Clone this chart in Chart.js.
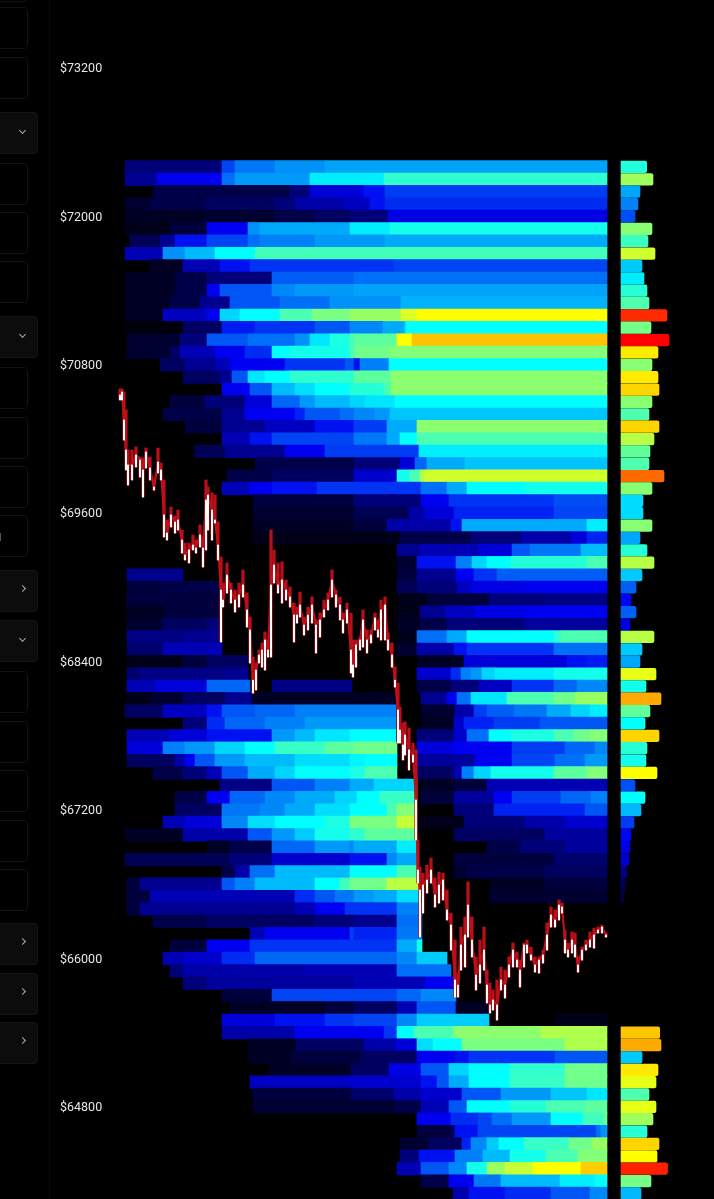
<!DOCTYPE html>
<html>
<head>
<meta charset="utf-8">
<title>Liquidation heatmap</title>
<script src="https://cdn.jsdelivr.net/npm/chart.js@4"></script>
<style>
html,body{margin:0;padding:0;background:#000;width:714px;height:1199px;overflow:hidden}
#side{position:absolute;left:0;top:0;width:50px;height:1199px;border-right:1px solid #090909;box-sizing:border-box}
.box{position:absolute;left:-10px;width:38px;height:42px;box-sizing:border-box;border:1px solid #121212;border-radius:4px}
.box.wide{width:48px;background:#0c0c0c;border-color:#141414}
.box.wide::after{content:"";position:absolute;left:29px;top:15px;width:4px;height:4px;border-right:1px solid #aaa;border-bottom:1px solid #aaa}
.box.down::after{transform:rotate(45deg)}
.box.right::after{transform:rotate(-45deg)}
#mark{position:absolute;left:0;top:533px;width:1px;height:8px;background:#555}
canvas{position:absolute;left:0;top:0;filter:blur(0.6px)}
</style>
</head>
<body>
<div id="side"><div id="mark"></div></div>
<canvas id="myChart" width="714" height="1199" style="width:714px;height:1199px"></canvas>
<script>
// price axis
const priceTicks = [73200, 72000, 70800, 69600, 68400, 67200, 66000, 64800];
// one row per $100 level, top one is 72400
const topLevel = 72400;
// each row: start time, level, start time, level ... (level runs until next start)
const heatRows = [
[0,10,97,28,110,34,150,37,200,39],
[0,12,30,15,33,20,97,33,110,38,185,48,259,55],
[28,6,165,10,185,18,239,22,260,27],
[0,4,25,6,80,8,150,10,170,14,220,16,245,22,260,25],
[0,3,80,4,150,6,190,8,225,10,263,19],
[0,2,45,5,82,20,123,37,135,40,225,48,265,52],
[5,7,35,12,50,22,82,28,123,33,135,35,190,38,260,40],
[0,15,38,37,60,42,90,50,130,57],
[25,3,58,15,95,22,125,26,269,28],
[0,3,50,6,82,10,147,31,229,33],
[0,3,50,6,82,20,95,30,147,36,170,38,229,39],
[0,3,45,6,75,12,105,30,155,33,205,37,276,41],
[0,3,38,16,82,20,95,45,115,50,155,58,187,63,225,66,276,72,292,75],
[0,1,58,8,97,23,130,26,190,30,225,36,258,40,280,48,282,50],
[2,4,55,10,82,30,123,33,170,37,185,47,205,53,225,58,230,60,272,75,287,81],
[2,4,45,8,55,15,90,20,120,25,147,50,165,52,225,58,230,62,265,64],
[35,8,60,12,90,15,105,20,160,26,220,30,229,22,235,35,264,50],
[58,8,95,12,107,30,123,47,140,50,165,55,229,60,266,65],
[97,20,125,30,147,42,170,46,190,50,225,54,259,58,266,65],
[45,5,80,10,120,18,147,32,175,38,190,42,225,45,240,47,270,50],
[38,6,97,12,120,20,170,24,180,30,215,33,229,36,250,38,265,43],
[60,5,97,12,140,16,190,22,229,27,262,40,292,65],
[97,15,125,22,147,28,229,34,262,40,275,50,292,58],
[70,7,100,12,160,20,200,27,294,48],
[130,6,229,10,275,18,290,32,302,40,340,43],
[102,6,148,8,229,17,272,52,285,58,295,68,300,71],
[97,15,125,20,147,22,192,26,296,33,322,40,342,50,400,52],
[128,5,229,10,296,20,324,26,429,29],
[128,4,229,7,284,14,300,18,329,24,429,28],
[128,3,229,5,262,14,326,22,337,40,462,48],
[128,2,275,6,346,10,396,14,446,18,462,24],
[272,12,295,15,354,18,387,30,405,34,456,42],
[272,4,292,22,331,35,347,45,362,50,386,54,462,58],
[2,12,58,0,272,5,292,12,331,20,349,26,372,31],
[2,5,35,6,95,0,272,7,292,10,332,16,346,19,400,20],
[2,5,100,0,272,2,302,5,364,10,420,11],
[2,3,40,5,95,0,272,2,295,12,320,16,350,19,400,20],
[2,4,38,8,82,10,97,0,272,3,295,6,322,10,400,13],
[2,11,60,12,97,0,272,2,292,33,322,40,342,50,429,55,436,58],
[2,9,38,15,97,0,272,4,292,14,329,22,342,26,429,33],
[2,2,58,5,82,8,123,0,292,3,339,18,442,22,462,23],
[2,9,15,11,100,12,123,0,292,17,326,25,336,35,346,38,357,45,370,48,429,52],
[2,15,30,18,82,32,125,0,147,11,227,0,292,6,326,10,354,16,387,26,429,32,452,36],
[2,2,25,4,58,8,100,12,127,3,271,0,296,12,322,20,332,33,346,47,382,58,429,62,450,66],
[0,8,38,16,82,22,97,30,130,32,170,35,271,0,296,4,330,14,349,27,362,31,389,34,422,40,446,45,465,48],
[58,10,82,25,100,32,140,35,180,38,271,0,296,3,329,17,339,24,369,27,415,30],
[2,15,45,18,82,22,147,38,170,42,190,47,225,50,271,0,292,10,329,17,342,33,364,50,386,53,429,58,449,62,465,64],
[2,18,38,35,60,38,90,45,120,50,150,56,200,60,229,62,272,0,292,18,329,20,387,27,440,32,470,36],
[2,8,50,14,60,20,70,30,90,38,120,42,170,46,225,49,240,50,272,0,292,13,350,20,387,28,430,33,460,38],
[28,6,58,10,82,15,97,30,123,40,150,45,170,50,225,53,240,58,272,0,292,8,329,15,337,35,349,45,366,52,429,60,462,64],
[95,11,147,30,190,35,225,40,249,45,292,0,296,3,329,5,362,15],
[50,6,82,20,105,32,140,36,170,40,210,45,232,50,255,56,292,0,296,5,329,13,369,20,387,27,436,32,466,35],
[50,8,97,34,135,36,160,40,190,46,225,50,262,58,272,64,292,0,329,10,369,24,460,30],
[38,15,60,18,97,36,123,46,150,50,200,53,225,63,272,70,292,0,296,2,339,10,400,14,440,17],
[0,3,58,14,123,30,147,38,170,44,190,52,225,55,240,60,292,0,329,8,420,13],
[82,3,105,6,147,32,190,38,225,36,229,40,272,48,292,0,362,6,396,10,440,13],
[0,7,105,10,147,17,225,22,262,36,272,40,292,0,329,5,429,9],
[97,6,110,14,125,33,150,42,225,50,272,58,292,0,329,4,342,6,420,8],
[2,5,15,12,97,30,110,35,130,42,190,50,215,57,225,62,259,63,262,69,294,0,365,3,420,5],
[2,5,25,15,170,25,190,30,210,34,229,38,249,40,272,46,294,0,365,4],
[2,5,15,12,170,15,190,20,220,26,272,35,297,0],
[28,6,82,8,190,10,229,12,272,33,297,0],
[125,15,140,20,225,27,229,24,272,34,297,0],
[45,5,82,20,125,26,272,40,292,52,297,0],
[38,15,60,17,97,25,130,32,272,36,292,44,322,0],
[45,10,58,14,180,15,272,33,326,0],
[58,10,82,13,229,15,300,20,330,0],
[97,5,147,28,272,32,296,36,331,0],
[105,3,200,5,229,8,272,15,292,30,331,3,365,0],
[97,18,150,22,200,26,229,28,272,36,292,44,364,0,430,2],
[97,14,170,20,229,20,259,26,272,50,289,58,329,65,416,68],
[123,3,171,8,239,14,271,18,292,46,308,50,337,63,440,68],
[123,3,166,5,235,8,292,20,330,22,344,26,430,30],
[144,3,226,8,264,19,296,30,324,45,344,50,385,55,440,62],
[125,16,226,17,296,22,312,30,324,40,344,50,385,56,440,62],
[128,5,226,9,269,14,296,17,337,30,376,38,426,43,462,47],
[128,4,269,6,296,15,324,30,342,50,385,54,421,58,460,60],
[292,20,326,25,353,28,367,33,387,38,426,50,458,57,480,62],
[292,5,326,8,330,22,353,28,471,33,476,37],
[275,4,303,8,337,24,346,36,362,44,374,50,399,56,444,62,467,66],
[275,10,294,22,330,35,358,42,385,52,421,58,453,64],
[272,15,296,30,324,36,342,52,362,66,380,70,408,75,456,80],
[296,6,324,20,349,34,376,42,435,48,470,50],
[328,14,344,22,380,25,426,30,465,36]
];
const heatEnd = 482;
// right hand profile, one per row
const profile = [25.7,32,19,17,14,31,27,34,21,23,26,28,46,30,48,37,31,37,38,31,28,38,33,29,28,43,31,22,22,31,19,26,33,21,15,10,15,9,33,21,19,35,25,40,29,24,38,26,25,36,14,24,20,13,10,9,8,5.5,4,2.7,0,0,0,0,0,0,0,0,0,0,38.7,40,21,37,35,28,35,32,26,38,36,46.5,30,20];
const profileMax = 48;
// price candles
const candleTime = [-5,-3,-1,1,3,7,11,15,18,21,25,29,33,36,39,42,46,50,53,57,60,64,68,71,75,78,81,83,87,90,93,96,98,102,106,110,114,118,122,125,128,131,134,137,140,143,146,149,153,157,161,165,169,172,175,179,183,187,191,195,199,203,207,211,215,218,222,226,228,231,235,238,242,246,250,253,256,260,263,267,270,273,275,278,280,284,288,291,293,295,298,302,306,310,314,318,322,326,330,333,336,340,343,347,351,355,359,362,365,368,372,376,380,384,388,392,395,399,402,406,410,414,418,422,426,430,434,437,440,443,447,450,453,457,461,465,469,473,477,481];
const candleHigh = [70605,70605,70580,70435,70111,70111,70136,70055,70047,70127,70055,69869,70127,70006,69869,69545,69650,69578,69626,69464,69359,69359,69424,69383,69505,69408,69869,69812,69764,69747,69529,69246,69036,69198,69036,68979,69036,69141,68955,68761,68437,68389,68494,68550,68640,68575,69464,69303,69198,69206,69060,69004,68874,68842,68963,68761,68842,68923,68737,68793,68898,68955,69141,68979,68923,68793,68874,68793,68575,68575,68599,68818,68656,68656,68793,68737,68898,68923,68632,68551,68356,68227,68033,67904,67912,67863,67742,67686,66958,66739,66691,66755,66812,66650,66699,66691,66553,66367,66149,65882,66254,66335,66618,66335,66012,66149,66254,65906,65801,65745,65826,65931,65906,66012,66125,66052,65987,66125,66149,66092,66012,66012,66068,66287,66416,66392,66473,66448,66230,66125,66214,66206,66012,66092,66149,66214,66246,66254,66270,66206];
const candleLow = [70516,70516,70192,69950,69828,69869,69974,69893,69731,69966,69869,69788,69925,69869,69408,69383,69489,69440,69464,69278,69222,69198,69303,69278,69327,69165,69303,69464,69383,69521,69222,68559,68842,68955,68874,68801,68842,68923,68680,68389,68146,68171,68389,68356,68332,68437,68437,69036,68955,68874,68898,68842,68559,68712,68761,68615,68656,68712,68470,68599,68761,68818,68923,68842,68737,68632,68712,68308,68276,68356,68494,68518,68470,68551,68656,68599,68575,68575,68494,68356,68195,67742,67742,67605,67645,67524,67588,66958,66610,66173,66367,66529,66610,66416,66448,66473,66311,66068,65688,65688,65906,65931,66173,66012,65745,65801,65906,65640,65559,65583,65502,65745,65680,65850,65931,65931,65769,65931,66044,65987,65890,65882,65963,66068,66254,66254,66311,66367,66044,66012,66044,66012,65890,65987,66068,66092,66084,66206,66206,66173];
const candleClose = [70556,70580,70354,70111,69990,69990,70071,70030,69950,70095,69966,69812,70014,69950,69586,69440,69586,69529,69545,69383,69262,69303,69343,69319,69424,69319,69707,69747,69626,69545,69343,68979,68898,69100,68979,68898,68939,69020,68818,68656,68250,68332,68454,68494,68575,68494,69020,69181,69020,69060,68979,68923,68777,68777,68858,68696,68777,68858,68696,68737,68818,68898,69060,68939,68858,68737,68818,68494,68373,68535,68575,68737,68575,68615,68753,68656,68818,68858,68575,68454,68250,68009,67847,67726,67807,67686,67645,67281,66715,66553,66594,66634,66715,66513,66594,66634,66392,66270,65826,65785,66109,66190,66432,66149,65866,65947,66068,65785,65624,65664,65624,65826,65785,65947,66068,65987,65906,66109,66109,66028,65947,65987,66028,66190,66351,66311,66432,66416,66149,66068,66149,66109,65947,66068,66109,66149,66190,66230,66254,66190];

const colorStops = [[0,0,0,0],[20,0,0,240],[50,0,255,255],[65,140,255,110],[75,255,255,0],[100,255,0,0]];
function heatColor(v) {
    for (let i = 1; i < colorStops.length; i++) {
        const a = colorStops[i-1], b = colorStops[i];
        if (v <= b[0]) {
            const f = (v - a[0]) / (b[0] - a[0]);
            return 'rgb(' + [1,2,3].map(k => Math.round(a[k] + (b[k]-a[k])*f)).join(',') + ')';
        }
    }
    return 'rgb(255,0,0)';
}

// sidebar cards
const cards = [[-40,'n'],[7,'n'],[57,'n'],[112,'down'],[163,'n'],[212,'n'],[261,'n'],[316,'down'],[367,'n'],[417,'n'],[466,'n'],[515,'n'],[570,'right'],[620,'down'],[671,'n'],[721,'n'],[770,'n'],[820,'n'],[869,'n'],[923,'right'],[973,'right'],[1022,'right']];
cards.forEach(c => {
    const d = document.createElement('div');
    d.className = 'box' + (c[1] === 'n' ? '' : ' wide ' + c[1]);
    d.style.top = c[0] + 'px';
    document.getElementById('side').appendChild(d);
});

// split the rows into bars
const heatBars = [], heatColors = [];
heatRows.forEach((row, r) => {
    for (let i = 0; i < row.length; i += 2) {
        if (row[i+1] === 0) continue;
        const end = i + 2 < row.length ? row[i+2] : heatEnd;
        heatBars.push({ x: [row[i], end], y: topLevel - r * 100 });
        heatColors.push(heatColor(row[i+1]));
    }
});
const profileBars = profile.map((v, r) => ({ x: v, y: topLevel - r * 100 }));
const profileColors = profile.map(v => heatColor(v / profileMax * 100));
const wicks = candleTime.map((t, i) => ({ x: t, y: [candleLow[i], candleHigh[i]] }));
const bodies = candleTime.map((t, i) => ({ x: t, y: [candleLow[i], candleClose[i]] }));
const closes = candleTime.map((t, i) => ({ x: t, y: candleClose[i] }));

Chart.defaults.font.family = 'Roboto';
new Chart(document.getElementById('myChart').getContext('2d'), {
    data: {
        datasets: [
            { type: 'bar', indexAxis: 'y', data: heatBars, backgroundColor: heatColors, grouped: false, barThickness: 12.6, order: 4 },
            { type: 'bar', indexAxis: 'y', xAxisID: 'xProfile', data: profileBars, backgroundColor: profileColors, grouped: false, barThickness: 11.6, borderRadius: { topRight: 2, bottomRight: 2 }, borderSkipped: false, order: 4 },
            { type: 'bar', data: wicks, backgroundColor: '#b80f18', grouped: false, barThickness: 2.6, order: 3 },
            { type: 'line', data: closes, borderColor: '#c00f18', borderWidth: 2.2, pointRadius: 0, tension: 0, order: 2 },
            { type: 'bar', data: bodies, backgroundColor: '#ffffff', grouped: false, barThickness: 1.4, order: 1 }
        ]
    },
    options: {
        responsive: false,
        animation: false,
        layout: { padding: 0 },
        plugins: { legend: { display: false }, tooltip: { enabled: false } },
        scales: {
            x: { type: 'linear', min: -125, max: 589, display: false, offset: false },
            xProfile: { type: 'linear', axis: 'x', min: -621, max: 93, display: false, offset: false },
            y: {
                type: 'linear', min: 64055, max: 73750, position: 'left', offset: false,
                grid: { display: false, offset: false }, border: { display: false },
                afterBuildTicks: s => { s.ticks = priceTicks.map(v => ({ value: v })); },
                // labels sit inside the plot, so the axis takes no room
                afterFit: s => { s.width = 0; s.paddingTop = 0; s.paddingBottom = 0; },
                ticks: { mirror: true, padding: 60, labelOffset: 1, color: '#e6e6e6', font: { size: 12.5 }, autoSkip: false, callback: v => '$' + v }
            }
        }
    }
});
</script>
</body>
</html>
